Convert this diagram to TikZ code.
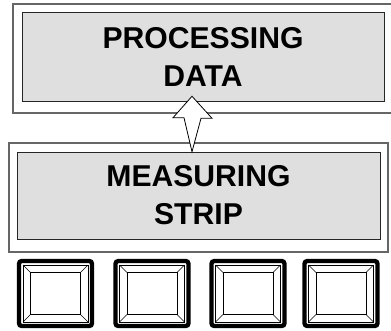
\documentclass[tikz,border=0pt]{standalone}
\usepackage{fontspec}
\setmainfont{Liberation Sans}
\usetikzlibrary{calc,positioning}

\tikzset{
  panel/.style={draw=black!85,fill=gray!25,inner sep=0pt,align=center,
    font=\fontsize{22.6}{28.5}\selectfont\bfseries},
  frame/.style={draw=black!60,line width=0.8pt},
  key/.style={draw,line width=3.2pt,rounded corners=2pt,inner sep=0pt,
    minimum width=54.75pt,minimum height=48.75pt},
  hollow/.style={draw,fill=white,line width=0.6pt,line join=miter}
}

\begin{document}
\begin{tikzpicture}[x=0.75pt,y=-0.75pt]
\useasboundingbox (0,0) rectangle (391,330);
% housings
\draw[frame] (13,4) rectangle (396,113);
\draw[frame] (9,143) rectangle (388,252);
% displays
\node[panel,minimum width=271.5pt,minimum height=66.75pt] (proc) at (203,56.5) {PROCESSING\\DATA};
\node[panel,minimum width=272.25pt,minimum height=65.25pt] (meas) at (198.5,195.5) {MEASURING\\STRIP};
% data flow
\coordinate (foot) at ($(meas.north)+(-6.5,0)$);
\coordinate (tip) at ($(proc.south)+(-11,-5)$);
\draw[hollow] (foot) -- ++(-8,-34) -- ++(-11,0) -- (tip) -- ++(20,22) -- ++(-11,0) -- cycle;
% keys
\foreach \i/\cx in {1/55.5,2/152,3/248,4/341}{
  \node[key] (k\i) at (\cx,293.5) {};
  \begin{scope}[shift={(k\i.center)},line width=0.4pt]
    \draw (-32.5,-28.5) rectangle (32.5,28.5);
    \draw (-25,-21) rectangle (25,21);
    \draw (-32.5,-28.5) -- (-25,-21) (32.5,-28.5) -- (25,-21)
          (-32.5,28.5) -- (-25,21) (32.5,28.5) -- (25,21);
  \end{scope}
}
\end{tikzpicture}
\end{document}
